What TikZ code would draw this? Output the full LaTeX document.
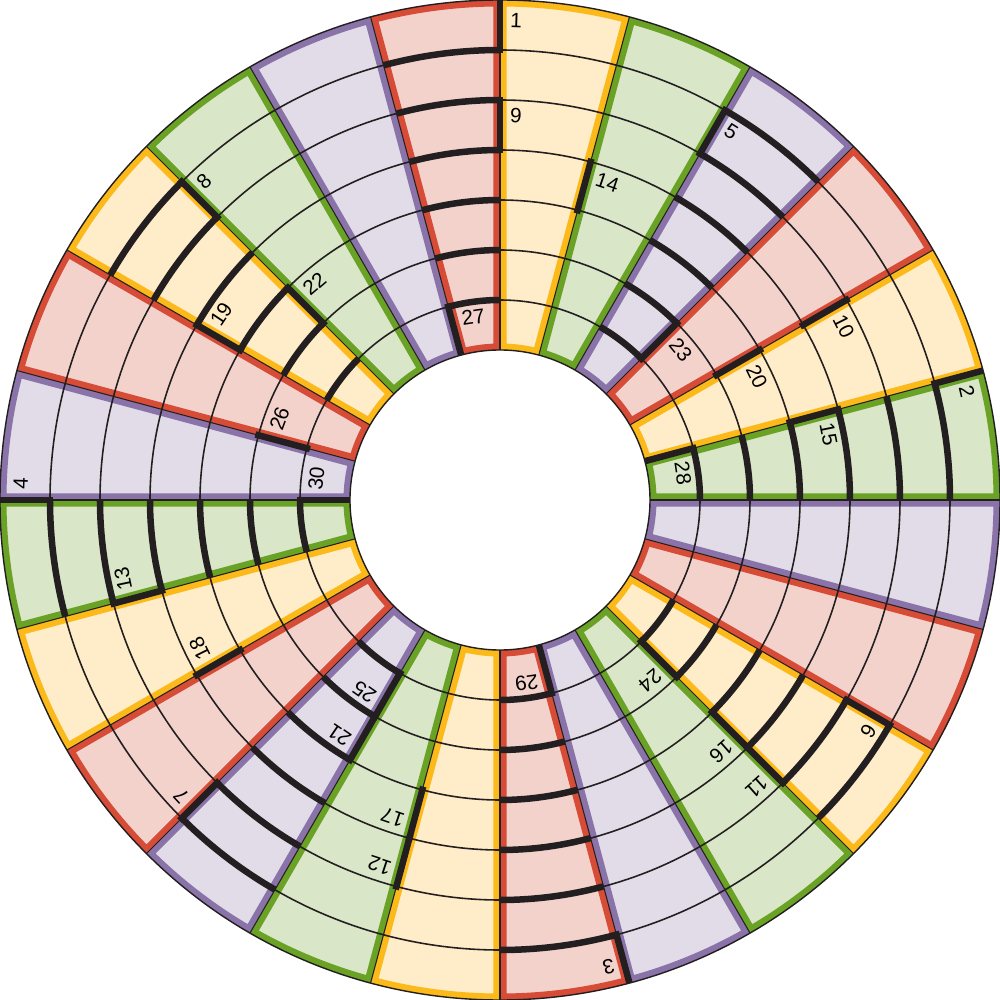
\documentclass[tikz,border=0pt]{standalone}
\usepackage{fontspec}
\setmainfont{Liberation Sans}
\definecolor{sfill0}{RGB}{255,236,200}
\definecolor{sband0}{RGB}{251,185,26}
\definecolor{sfill1}{RGB}{218,230,200}
\definecolor{sband1}{RGB}{106,162,38}
\definecolor{sfill2}{RGB}{225,220,232}
\definecolor{sband2}{RGB}{137,115,168}
\definecolor{sfill3}{RGB}{243,210,204}
\definecolor{sband3}{RGB}{214,76,54}
\definecolor{ink}{RGB}{35,31,32}
\begin{document}
\begin{tikzpicture}[
  thinarc/.style={draw=ink, line width=0.9pt},
  outline/.style={draw=ink, line width=0.6pt},
  rim/.style={draw=ink, line width=0.8pt},
  trackarc/.style={draw=ink, line width=3.7pt, line cap=butt},
  trackrad/.style={draw=ink, line width=3.7pt, line cap=butt},
  lab/.style={font=\fontsize{11.8}{13}\selectfont, inner sep=0pt, text=black}
]
\useasboundingbox (-10,-10) rectangle (10,10);
% sectors
\foreach \k in {0,...,23} {
  \pgfmathsetmacro\ta{90-15*\k}
  \pgfmathsetmacro\tb{90-15*(\k+1)}
  \pgfmathtruncatemacro\c{mod(\k,4)}
  \path[fill=sfill\c] (\ta:3) -- (\ta:10) arc[start angle=\ta, end angle=\tb, radius=10] -- (\tb:3) arc[start angle=\tb, end angle=\ta, radius=3] -- cycle;
  \begin{scope}
    \clip (\ta:3) -- (\ta:10) arc[start angle=\ta, end angle=\tb, radius=10] -- (\tb:3) arc[start angle=\tb, end angle=\ta, radius=3] -- cycle;
    \draw[draw=sband\c, line width=7.4pt] (\ta:3) -- (\ta:10) arc[start angle=\ta, end angle=\tb, radius=10] -- (\tb:3) arc[start angle=\tb, end angle=\ta, radius=3] -- cycle;
  \end{scope}
}
% thin ring arcs
\foreach \r in {4,...,9} \draw[thinarc] (0,0) circle[radius=\r];
% sector outlines
\foreach \k in {0,...,23} {
  \pgfmathsetmacro\ta{90-15*\k}
  \draw[outline] (\ta:3) -- (\ta:10);
}
\draw[rim] (0,0) circle[radius=10];
\draw[rim] (0,0) circle[radius=3];
% thick arcs
\foreach \k in {2,5,...,23} {
  \pgfmathsetmacro\ta{90-15*\k}
  \pgfmathsetmacro\tb{90-15*(\k+1)}
  \foreach \r in {4,...,9}
    \draw[trackarc] (\ta:\r) arc[start angle=\ta, end angle=\tb, radius=\r];
}
% thick radials, outer ring
\foreach \a in {90,15,-75,180}
  \draw[trackrad, shorten <=-1.85pt] (\a:9) -- (\a:10);
% thick radials, innermost ring
\foreach \a in {105,15,-75,180}
  \draw[trackrad, shorten >=-1.85pt] (\a:3) -- (\a:4);
% thick radials, middle rings
\foreach \a/\ri/\ro in {60/8/9, -30/8/9, 225/8/9, 135/8/9,
  90/7/8, 30/7/8, -45/7/8, 255/7/8, 195/7/8,
  75/6/7, 15/6/7, -45/6/7, 255/6/7, 210/6/7, 150/6/7,
  30/5/6, 240/5/6, 135/5/6,
  45/4/5, -45/4/5, 240/4/5, 165/4/5}
  \draw[trackrad, shorten <=-1.85pt, shorten >=-1.85pt] (\a:\ri) -- (\a:\ro);
% labels
\foreach \a/\ro/\off/\hw/\t in {
  90/10/0.41/0.111/1, 15/10/0.41/0.111/2, -75/10/0.41/0.111/3, 180/10/0.41/0.111/4,
  60/9/0.3/0.111/5, -30/9/0.3/0.111/6, 225/9/0.3/0.111/7, 135/9/0.3/0.111/8,
  90/8/0.3/0.111/9, 30/8/0.3/0.222/10, -45/8/0.3/0.222/11, 255/8/0.3/0.222/12, 195/8/0.3/0.222/13,
  75/7/0.3/0.222/14, 15/7/0.3/0.222/15, -45/7/0.3/0.222/16, 255/7/0.3/0.222/17, 210/7/0.3/0.222/18, 150/7/0.3/0.222/19,
  30/6/0.3/0.222/20, 240/6/0.3/0.222/21, 135/6/0.3/0.222/22,
  45/5/0.3/0.222/23, -45/5/0.3/0.222/24, 240/5/0.3/0.222/25, 165/5/0.3/0.222/26,
  105/4/0.3/0.222/27, 15/4/0.3/0.222/28, -75/4/0.3/0.222/29, 180/4/0.3/0.222/30} {
  \pgfmathsetmacro\rr{\ro-\off}
  \pgfmathsetmacro\cc{\a-(0.21+\hw)/\rr*57.2958}
  \node[lab, rotate=\cc-90] (l\t) at (\cc:\rr) {\t};
}
\end{tikzpicture}
\end{document}
